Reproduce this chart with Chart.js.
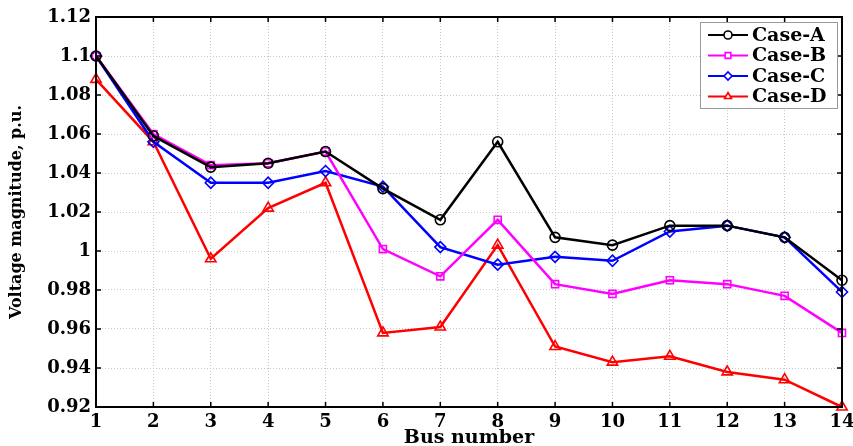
<!DOCTYPE html>
<html>
<head>
<meta charset="utf-8">
<script src="https://cdn.jsdelivr.net/npm/chart.js@4.4.0/dist/chart.umd.min.js"></script>
<style>
  html, body { margin: 0; padding: 0; background: #fff; }
  #wrap { width: 853px; height: 446px; }
</style>
</head>
<body>
<div id="wrap"><canvas id="voltChart"></canvas></div>
<script>
// Bus voltage profile data
const busNumbers = [1, 2, 3, 4, 5, 6, 7, 8, 9, 10, 11, 12, 13, 14];
const caseA = [1.100, 1.059, 1.043, 1.045, 1.051, 1.032, 1.016, 1.056, 1.007, 1.003, 1.013, 1.013, 1.007, 0.985];
const caseB = [1.100, 1.060, 1.044, 1.045, 1.051, 1.001, 0.987, 1.016, 0.983, 0.978, 0.985, 0.983, 0.977, 0.958];
const caseC = [1.100, 1.056, 1.035, 1.035, 1.041, 1.033, 1.002, 0.993, 0.997, 0.995, 1.010, 1.013, 1.007, 0.979];
const caseD = [1.088, 1.056, 0.996, 1.022, 1.035, 0.958, 0.961, 1.003, 0.951, 0.943, 0.946, 0.938, 0.934, 0.920];
const seriesNames = ['Case-A', 'Case-B', 'Case-C', 'Case-D'];
const yTickLabels = ['0.92', '0.94', '0.96', '0.98', '1', '1.02', '1.04', '1.06', '1.08', '1.1', '1.12'];

const FONT = "'DejaVu Serif', serif";

function makeSet(label, data, color, style, radius) {
    return {
        label: label,
        data: data,
        borderColor: color,
        backgroundColor: color,
        borderWidth: 2.5,
        pointStyle: style,
        pointRadius: radius,
        pointHoverRadius: radius,
        pointBorderWidth: 1.6,
        pointBackgroundColor: 'rgba(255,255,255,0)',
        pointBorderColor: color,
        tension: 0,
        clip: false
    };
}

// Box around the plot with inward tick marks
const framePlugin = {
    id: 'frame',
    afterDatasetsDraw(chart) {
        const { ctx, chartArea: a, scales } = chart;
        ctx.save();
        ctx.strokeStyle = '#000';
        ctx.lineWidth = 2;
        ctx.strokeRect(a.left, a.top, a.right - a.left, a.bottom - a.top);
        ctx.lineWidth = 1.5;
        ctx.beginPath();
        busNumbers.forEach((b, i) => {
            const px = scales.x.getPixelForValue(i);
            ctx.moveTo(px, a.bottom); ctx.lineTo(px, a.bottom - 5);
            ctx.moveTo(px, a.top); ctx.lineTo(px, a.top + 5);
        });
        scales.y.ticks.forEach(t => {
            const py = scales.y.getPixelForValue(t.value);
            ctx.moveTo(a.left, py); ctx.lineTo(a.left + 5, py);
            ctx.moveTo(a.right, py); ctx.lineTo(a.right - 5, py);
        });
        ctx.stroke();
        ctx.restore();
    }
};

// MATLAB-style legend: line sample with marker, inside top-right
const legendPlugin = {
    id: 'boxLegend',
    afterDraw(chart) {
        const { ctx, chartArea: a } = chart;
        const w = 137, h = 86, rowH = 20.5;
        const x0 = a.right - w - 5, y0 = a.top + 5;
        ctx.save();
        ctx.fillStyle = '#fff';
        ctx.fillRect(x0, y0, w, h);
        ctx.strokeStyle = '#999';
        ctx.lineWidth = 1;
        ctx.strokeRect(x0 + 0.5, y0 + 0.5, w, h);
        chart.data.datasets.forEach((ds, i) => {
            const cy = y0 + 13 + i * rowH;
            ctx.strokeStyle = ds.borderColor;
            ctx.lineWidth = 2;
            ctx.beginPath();
            ctx.moveTo(x0 + 8, cy);
            ctx.lineTo(x0 + 48, cy);
            ctx.stroke();
            ctx.fillStyle = '#fff';
            ctx.lineWidth = 1.6;
            Chart.helpers.drawPoint(ctx, {
                pointStyle: ds.pointStyle, radius: 4, borderWidth: 1.6, rotation: 0
            }, x0 + 28, cy);
            ctx.fillStyle = '#000';
            ctx.font = 'bold 19px ' + FONT;
            ctx.textBaseline = 'middle';
            ctx.textAlign = 'left';
            ctx.fillText(ds.label, x0 + 52, cy + 1);
        });
        ctx.restore();
    }
};

const chartCtx = document.querySelector('#voltChart').getContext('2d');
const voltChart = new Chart(chartCtx, {
    type: 'line',
    data: {
        labels: busNumbers,
        datasets: [
            makeSet(seriesNames[0], caseA, '#000000', 'circle', 5),
            makeSet(seriesNames[1], caseB, '#ff00ff', 'rect', 5),
            makeSet(seriesNames[2], caseC, '#0000ff', 'rectRot', 5.5),
            makeSet(seriesNames[3], caseD, '#ff0000', 'triangle', 6)
        ]
    },
    options: {
        responsive: true,
        maintainAspectRatio: false,
        animation: false,
        events: [],
        layout: { padding: { top: 17, right: 11, left: 0, bottom: 0 } },
        plugins: {
            legend: { display: false },
            tooltip: { enabled: false }
        },
        scales: {
            x: {
                offset: false,
                grid: { color: '#c8c8c8', lineWidth: 1, drawTicks: false },
                border: { display: false, dash: [1, 2] },
                ticks: {
                    color: '#000',
                    padding: 5,
                    maxRotation: 0,
                    font: { family: FONT, size: 18, weight: 'bold' }
                },
                title: {
                    display: true,
                    text: 'Bus number',
                    color: '#000',
                    padding: { top: 0, bottom: -3 },
                    font: { family: FONT, size: 19, weight: 'bold' }
                },
                afterFit(scale) {
                    scale.height = 39;
                    scale.paddingRight = 0;
                    scale.paddingLeft = 0;
                }
            },
            y: {
                min: 0.92,
                max: 1.12,
                grid: { color: '#c8c8c8', lineWidth: 1, drawTicks: false },
                border: { display: false, dash: [1, 2] },
                ticks: {
                    stepSize: 0.02,
                    color: '#000',
                    padding: 5,
                    font: { family: FONT, size: 18, weight: 'bold' },
                    callback: (v) => {
                        const lbl = yTickLabels.find(l => Math.abs(parseFloat(l) - v) < 1e-6);
                        return lbl === undefined ? '' : lbl;
                    }
                },
                title: {
                    display: true,
                    text: 'Voltage magnitude, p.u.',
                    color: '#000',
                    padding: { top: 7, bottom: 0 },
                    font: { family: FONT, size: 16, weight: 'bold' }
                },
                afterFit(scale) {
                    scale.width = 96;
                    scale.paddingTop = 0;
                    scale.paddingBottom = 0;
                }
            }
        }
    },
    plugins: [framePlugin, legendPlugin]
});
</script>
</body>
</html>
